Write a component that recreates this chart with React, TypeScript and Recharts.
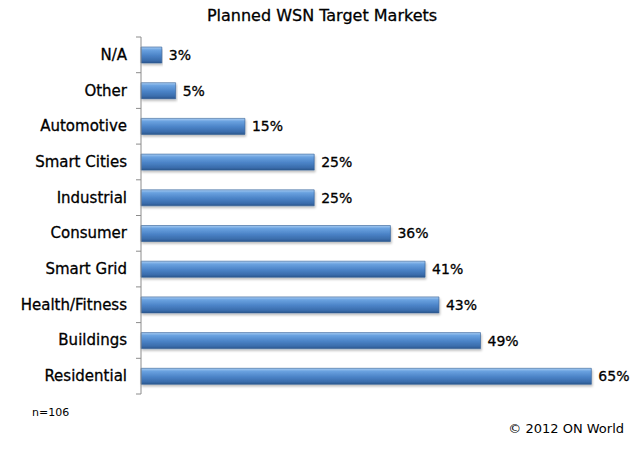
import { BarChart, Bar, XAxis, YAxis, LabelList } from 'recharts'

const categories = [
  'N/A',
  'Other',
  'Automotive',
  'Smart Cities',
  'Industrial',
  'Consumer',
  'Smart Grid',
  'Health/Fitness',
  'Buildings',
  'Residential',
]
const shares = [3, 5, 15, 25, 25, 36, 41, 43, 49, 65]

const data = categories.map((name, i) => ({ name, value: shares[i] }))

const W = 636
const H = 449
const MARGIN = { top: 37, right: 10, bottom: 55, left: 0 }
const AXIS_W = 141
const FONT = '"DejaVu Sans", Verdana, sans-serif'
const band = (H - MARGIN.top - MARGIN.bottom) / categories.length

const CategoryTick = (props: any) => {
  const { x, y, payload, index } = props
  return (
    <g>
      <text
        x={x - 6}
        y={y}
        dy={5}
        textAnchor="end"
        fontSize={15}
        fill="#000"
        stroke="#000"
        strokeWidth={0.3}
        fontFamily={FONT}
      >
        {payload.value}
      </text>
      <line x1={x + 3} x2={x + 8} y1={y - band / 2} y2={y - band / 2} stroke="#8c8c8c" />
      {index === categories.length - 1 && (
        <line x1={x + 3} x2={x + 8} y1={y + band / 2} y2={y + band / 2} stroke="#8c8c8c" />
      )}
    </g>
  )
}

export default function App() {
  return (
    <div style={{ position: 'absolute', left: 0, top: 0, width: W, height: H, background: '#fff' }}>
      <div
        style={{
          position: 'absolute',
          top: 6,
          left: 4,
          width: W,
          textAlign: 'center',
          fontFamily: FONT,
          fontSize: 16,
          color: '#000',
          WebkitTextStroke: '0.3px #000',
        }}
      >
        Planned WSN Target Markets
      </div>
      <BarChart width={W} height={H} data={data} layout="vertical" margin={MARGIN}>
        <defs>
          <linearGradient id="barFill" x1="0" y1="0" x2="0" y2="1">
            <stop offset="0%" stopColor="#a9cdf3" />
            <stop offset="18%" stopColor="#6aa2e0" />
            <stop offset="55%" stopColor="#4a82c6" />
            <stop offset="85%" stopColor="#3a6cab" />
            <stop offset="100%" stopColor="#2a568d" />
          </linearGradient>
          <filter id="barShadow" x="-5%" y="-30%" width="110%" height="180%">
            <feDropShadow dx="1" dy="2" stdDeviation="1.2" floodColor="#000" floodOpacity="0.25" />
          </filter>
        </defs>
        <XAxis type="number" domain={[0, 70]} hide />
        <YAxis
          type="category"
          dataKey="name"
          width={AXIS_W}
          axisLine={{ stroke: '#8c8c8c' }}
          tickLine={false}
          tick={<CategoryTick />}
          interval={0}
        />
        <Bar
          dataKey="value"
          barSize={16}
          fill="url(#barFill)"
          stroke="#2f5d93"
          strokeWidth={0.6}
          filter="url(#barShadow)"
          isAnimationActive={false}
        >
          <LabelList
            dataKey="value"
            position="right"
            offset={7}
            formatter={(v: any) => `${v}%`}
            style={{ fontFamily: FONT, fontSize: 14, fill: '#000', stroke: '#000', strokeWidth: 0.3 }}
          />
        </Bar>
      </BarChart>
      <div style={{ position: 'absolute', left: 32, top: 406, fontFamily: FONT, fontSize: 11, color: '#000' }}>
        n=106
      </div>
      <div style={{ position: 'absolute', right: 12, top: 421, fontFamily: FONT, fontSize: 13, color: '#000' }}>
        © 2012 ON World
      </div>
    </div>
  )
}
